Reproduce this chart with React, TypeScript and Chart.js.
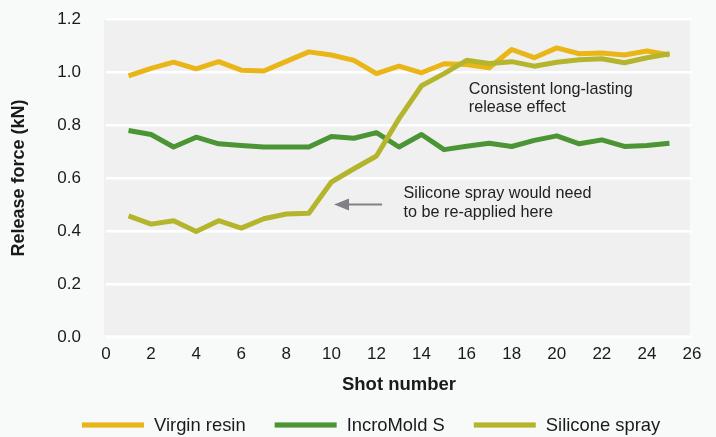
import React, { useEffect, useRef } from "react";
import { Chart, registerables } from "chart.js";

Chart.register(...registerables);

const shots = [1, 2, 3, 4, 5, 6, 7, 8, 9, 10, 11, 12, 13, 14, 15, 16, 17, 18, 19, 20, 21, 22, 23, 24, 25];
const virginResin = [0.985, 1.014, 1.037, 1.012, 1.039, 1.007, 1.004, 1.04, 1.076, 1.064, 1.044, 0.994, 1.022, 0.997, 1.031, 1.028, 1.016, 1.085, 1.054, 1.091, 1.069, 1.072, 1.064, 1.079, 1.064];
const incroMold = [0.779, 0.764, 0.717, 0.754, 0.729, 0.723, 0.717, 0.717, 0.717, 0.757, 0.75, 0.771, 0.717, 0.764, 0.707, 0.72, 0.731, 0.719, 0.742, 0.759, 0.729, 0.744, 0.719, 0.723, 0.731];
const siliconeSpray = [0.457, 0.426, 0.439, 0.398, 0.439, 0.411, 0.446, 0.464, 0.467, 0.585, 0.635, 0.683, 0.824, 0.948, 0.994, 1.044, 1.032, 1.039, 1.022, 1.037, 1.046, 1.05, 1.035, 1.054, 1.069];
const seriesNames = ["Virgin resin", "IncroMold S", "Silicone spray"];
const seriesColors = ["#e9b517", "#4b9535", "#b4b52c"];
const noteReapply = ["Silicone spray would need", "to be re-applied here"];
const noteConsistent = ["Consistent long-lasting", "release effect"];

const FONT = "'Liberation Sans', Arial, Helvetica, sans-serif";

const decorPlugin = {
  id: "decor",
  beforeDraw(chart: any) {
    const { ctx, chartArea: a } = chart;
    ctx.save();
    ctx.fillStyle = "#f0f0f0";
    ctx.fillRect(a.left - 2, a.top + 1, a.right - a.left, a.bottom - a.top - 3);
    ctx.restore();
  },
  afterDraw(chart: any) {
    const { ctx } = chart;
    const xs = chart.scales.x;
    const ys = chart.scales.y;
    ctx.save();
    // annotations
    ctx.fillStyle = "#222222";
    ctx.font = `16.2px ${FONT}`;
    ctx.textBaseline = "middle";
    ctx.textAlign = "left";
    const rx = xs.getPixelForValue(13.2);
    const ry = ys.getPixelForValue(0.543);
    noteReapply.forEach((t, i) => ctx.fillText(t, rx, ry + i * 19.5));
    const cx = xs.getPixelForValue(16.1);
    const cy = ys.getPixelForValue(0.932);
    noteConsistent.forEach((t, i) => ctx.fillText(t, cx, cy + i * 18));
    // arrow
    const ay = ys.getPixelForValue(0.5);
    const tipX = xs.getPixelForValue(10.12);
    const tailX = xs.getPixelForValue(12.25);
    ctx.strokeStyle = "#808184";
    ctx.fillStyle = "#808184";
    ctx.lineWidth = 2;
    ctx.beginPath();
    ctx.moveTo(tailX, ay);
    ctx.lineTo(tipX + 12, ay);
    ctx.stroke();
    ctx.beginPath();
    ctx.moveTo(tipX, ay);
    ctx.lineTo(tipX + 15, ay - 6);
    ctx.lineTo(tipX + 15, ay + 6);
    ctx.closePath();
    ctx.fill();
    // legend
    ctx.font = `18.4px ${FONT}`;
    let x = 82;
    const ly = 425;
    chart.data.datasets.forEach((ds: any) => {
      ctx.fillStyle = ds.borderColor;
      ctx.fillRect(x, ly - 2.6, 62, 5.2);
      x += 62 + 10;
      ctx.fillStyle = "#1a1a1a";
      ctx.fillText(ds.label, x, ly + 1);
      x += ctx.measureText(ds.label).width + 29;
    });
    ctx.restore();
  },
};

export default function App() {
  const ref = useRef<HTMLCanvasElement>(null);
  useEffect(() => {
    document.body.style.margin = "0";
    document.body.style.background = "#f8f9f9";
    const seriesValues = [virginResin, incroMold, siliconeSpray];
    const chart = new Chart(ref.current as HTMLCanvasElement, {
      type: "line",
      data: {
        datasets: seriesNames.map((name, i) => ({
          label: name,
          data: shots.map((s, j) => ({ x: s, y: seriesValues[i][j] })),
          borderColor: seriesColors[i],
          backgroundColor: seriesColors[i],
          borderWidth: 5,
          pointRadius: 0,
          tension: 0,
          fill: false,
          borderCapStyle: "butt",
          borderJoinStyle: "round",
          order: 2 - i,
        })),
      },
      options: {
        animation: false,
        responsive: false,
        devicePixelRatio: 1,
        layout: { padding: { top: 19, right: 24, bottom: 40.5, left: 0 } },
        plugins: { legend: { display: false }, tooltip: { enabled: false } },
        scales: {
          x: {
            type: "linear",
            min: 0,
            max: 26,
            grid: { display: false, drawTicks: false },
            border: { display: false },
            ticks: {
              stepSize: 2,
              padding: 7.5,
              color: "#1a1a1a",
              font: { family: FONT, size: 17 },
            },
            title: {
              display: true,
              text: "Shot number",
              color: "#1a1a1a",
              font: { family: FONT, size: 18.5, weight: "bold" },
              padding: { top: 0, bottom: 0 },
            },
            afterFit(scale: any) {
              scale.height = 59.5;
            },
          },
          y: {
            min: 0,
            max: 1.2,
            grid: { color: "#ffffff", lineWidth: 2.5, drawTicks: false },
            border: { display: false },
            ticks: {
              stepSize: 0.2,
              padding: 25,
              color: "#1a1a1a",
              font: { family: FONT, size: 17 },
              callback: (v: any) => Number(v).toFixed(1),
            },
            title: {
              display: true,
              text: "Release force (kN)",
              color: "#1a1a1a",
              font: { family: FONT, size: 18, weight: "bold" },
              padding: { top: 8, bottom: 0 },
            },
            afterFit(scale: any) {
              scale.width = 106;
              scale.paddingTop = 0;
              scale.paddingBottom = 0;
            },
          },
        },
      },
      plugins: [decorPlugin],
    } as any);
    return () => chart.destroy();
  }, []);
  return (
    <div style={{ width: 716, height: 437, background: "#f8f9f9" }}>
      <canvas ref={ref} width={716} height={437} style={{ display: "block" }} />
    </div>
  );
}
